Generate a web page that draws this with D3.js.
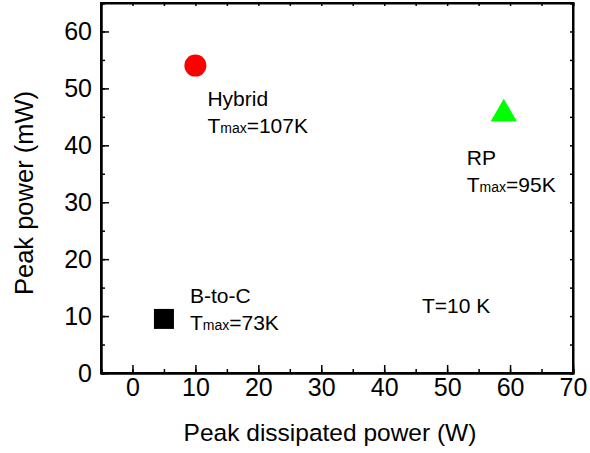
<!DOCTYPE html>
<html>
<head>
<meta charset="utf-8">
<script src="https://cdn.jsdelivr.net/npm/d3@7"></script>
<style>
  body { margin: 0; background: #fff; }
  svg { display: block; font-family: "Liberation Sans", Arial, sans-serif; }
  .axis path, .axis line { stroke: #000; }
  .axis text { font-size: 25px; fill: #000; }
  .note { font-size: 21px; fill: #000; }
</style>
</head>
<body>
<div id="chart"></div>
<script>
const categories = ['B-to-C', 'Hybrid', 'RP']
const dissipated = [5, 10, 59]     // W
const peakPower = [9.5, 54, 45.5]  // mW
const tmax = [73, 107, 95]         // K
const xTicks = [0, 10, 20, 30, 40, 50, 60, 70]
const yTicks = [0, 10, 20, 30, 40, 50, 60]
const tempNote = { x: 46, y: 10.5, text: 'T=10 K' }

const colors = { 'B-to-C': '#000000', 'Hybrid': '#ff0000', 'RP': '#00ff00' }
const shapes = { 'B-to-C': d3.symbolSquare, 'Hybrid': d3.symbolCircle, 'RP': d3.symbolTriangle }
const shapeSize = { 'B-to-C': 400, 'Hybrid': 380, 'RP': 300 }
// label offset from marker, px
const labelOffset = { 'B-to-C': [26, -16], 'Hybrid': [12, 40], 'RP': [-37, 51] }

const margin = { top: 3, right: 17, bottom: 80, left: 101 }
const width = 590 - margin.left - margin.right
const height = 453 - margin.top - margin.bottom

const svg = d3.select('#chart')
  .append('svg')
  .attr('width', 590)
  .attr('height', 453)

const g = svg.append('g')
  .attr('transform', `translate(${margin.left},${margin.top})`)

const x = d3.scaleLinear().domain([-5, 70]).range([0, width])
const y = d3.scaleLinear().domain([0, 65]).range([height, 0])

const minorX = d3.range(-5, 71, 5)
const minorY = d3.range(0, 66, 5)

// minor ticks
g.append('g').attr('class', 'axis').attr('transform', `translate(0,${height})`)
  .call(d3.axisBottom(x).tickValues(minorX).tickSize(-4).tickFormat(''))
g.append('g').attr('class', 'axis')
  .call(d3.axisLeft(y).tickValues(minorY).tickSize(-4).tickFormat(''))
g.append('g').attr('class', 'axis')
  .call(d3.axisTop(x).tickValues(minorX).tickSize(-3).tickFormat(''))
g.append('g').attr('class', 'axis').attr('transform', `translate(${width},0)`)
  .call(d3.axisRight(y).tickValues(minorY).tickSize(-3).tickFormat(''))

// major axes
g.append('g').attr('class', 'axis x-axis').attr('transform', `translate(0,${height})`)
  .call(d3.axisBottom(x).tickValues(xTicks).tickSizeInner(-8).tickSizeOuter(0).tickPadding(5))
g.append('g').attr('class', 'axis y-axis')
  .call(d3.axisLeft(y).tickValues(yTicks).tickSizeInner(-8).tickSizeOuter(0).tickPadding(9))

g.selectAll('.axis path').attr('stroke-width', 2)
g.selectAll('.axis line').attr('stroke-width', 1.5)
g.selectAll('.axis').attr('font-family', null).attr('font-size', null)

// frame
g.append('rect')
  .attr('width', width)
  .attr('height', height)
  .attr('fill', 'none')
  .attr('stroke', '#000')
  .attr('stroke-width', 2)

// points
categories.forEach((c, i) => {
  const px = x(dissipated[i])
  const py = y(peakPower[i])
  g.append('path')
    .attr('d', d3.symbol().type(shapes[c]).size(shapeSize[c])())
    .attr('transform', `translate(${px},${py})`)
    .attr('fill', colors[c])

  const lx = px + labelOffset[c][0]
  const ly = py + labelOffset[c][1]
  g.append('text').attr('class', 'note').attr('x', lx).attr('y', ly).text(c)
  const t = g.append('text').attr('class', 'note').attr('x', lx).attr('y', ly + 27)
  t.append('tspan').text('T')
  t.append('tspan').attr('font-size', 14).text('max')
  t.append('tspan').text('=' + tmax[i] + 'K')
})

g.append('text').attr('class', 'note')
  .attr('x', x(tempNote.x))
  .attr('y', y(tempNote.y))
  .text(tempNote.text)

// axis titles
svg.append('text')
  .attr('x', 330)
  .attr('y', 441)
  .attr('text-anchor', 'middle')
  .attr('font-size', 24.5)
  .text('Peak dissipated power (W)')

svg.append('text')
  .attr('transform', 'translate(33,193) rotate(-90)')
  .attr('text-anchor', 'middle')
  .attr('font-size', 25.5)
  .text('Peak power (mW)')
</script>
</body>
</html>
